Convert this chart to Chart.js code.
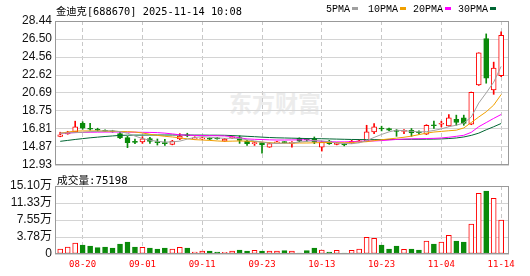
<!DOCTYPE html>
<html>
<head>
<meta charset="utf-8">
<script src="https://cdn.jsdelivr.net/npm/chart.js@4/dist/chart.umd.min.js"></script>
<style>
  html, body { margin: 0; padding: 0; background: #fff; }
  #wrap { position: relative; width: 530px; height: 276px; overflow: hidden; }
  canvas { position: absolute; left: 0; }
  #priceChart { top: 0; }
  #volChart { top: 168px; }
  .txt { position: absolute; white-space: nowrap; color: #000; line-height: 1; }
  #title { left: 56px; top: 3px; font: 10.3px "DejaVu Sans Mono", "Noto Sans CJK SC", monospace; }
  #volTitle { left: 57px; top: 172px; font: 10.7px "DejaVu Sans Mono", "Noto Sans CJK SC", monospace; }
  .leg { position: absolute; top: 4px; font: 10px "Liberation Mono", monospace; white-space: nowrap; }
  .leg i { display: inline-block; width: 6px; height: 3px; margin-left: 2px; vertical-align: 2px; }
  #mark { position: absolute; left: 229px; top: 85px; font: bold 23px "Noto Sans CJK SC", sans-serif; color: #ececec; letter-spacing: 0px; }
</style>
</head>
<body>
<div id="wrap">
  <div id="mark">东方财富</div>
  <canvas id="priceChart" width="530" height="176"></canvas>
  <canvas id="volChart" width="530" height="108"></canvas>
  <div class="txt" id="title">金迪克[688670] 2025-11-14 10:08</div>
  <div class="leg" style="left:326px">5PMA<i style="background:#a0a0a0"></i></div>
  <div class="leg" style="left:368px">10PMA<i style="background:#f0a000"></i></div>
  <div class="leg" style="left:413px">20PMA<i style="background:#ff00ff"></i></div>
  <div class="leg" style="left:458px">30PMA<i style="background:#006633"></i></div>
  <div class="txt" id="volTitle">成交量:75198</div>
</div>
<script>
// ---- data ----
const dates = ['08-15','08-18','08-19','08-20','08-21','08-22','08-25','08-26','08-27','08-28',
  '08-29','09-01','09-02','09-03','09-04','09-05','09-08','09-09','09-10','09-11',
  '09-12','09-15','09-16','09-17','09-18','09-19','09-22','09-23','09-24','09-25',
  '09-26','09-29','09-30','10-09','10-10','10-13','10-14','10-15','10-16','10-17',
  '10-20','10-21','10-22','10-23','10-24','10-27','10-28','10-29','10-30','10-31',
  '11-03','11-04','11-05','11-06','11-07','11-10','11-11','11-12','11-13','11-14'];
const shownDates = ['08-20','09-01','09-11','09-23','10-13','10-23','11-04','11-14'];

const openP  = [16.02,16.29,16.49,17.43,16.89,16.78,16.67,16.62,16.31,15.88,
  15.48,15.42,15.77,15.42,15.32,15.15,15.73,16.18,15.75,15.75,
  15.80,15.86,15.51,15.86,15.88,15.51,15.23,15.34,14.86,15.32,
  15.40,15.26,15.80,15.70,15.77,14.86,15.51,15.15,15.21,15.29,
  15.42,15.51,16.49,16.89,16.86,16.64,16.56,16.67,16.51,16.26,
  17.27,17.32,17.14,17.86,18.01,17.32,21.55,26.54,21.01,22.56];
const highP  = [16.46,16.56,17.65,17.59,17.43,16.89,16.73,16.67,16.46,16.02,
  15.73,15.97,15.91,15.73,15.70,15.59,16.31,16.35,15.97,15.91,
  15.88,15.91,15.80,16.05,16.08,15.59,15.42,15.37,15.32,15.48,
  15.45,15.45,15.86,15.80,15.95,15.48,15.59,15.37,15.26,15.59,
  15.64,17.21,17.40,17.11,16.92,16.75,16.75,16.86,16.62,17.27,
  17.65,17.65,18.37,18.30,18.30,20.79,25.02,27.05,24.01,27.27];
const lowP   = [15.97,16.24,16.46,16.78,16.67,16.56,16.51,16.46,15.77,14.80,
  15.23,15.26,15.26,15.08,15.04,15.10,15.66,15.97,15.70,15.66,
  15.64,15.70,15.48,15.80,15.26,15.04,15.04,14.21,14.83,15.26,
  15.29,14.86,15.42,15.48,15.23,14.43,15.15,15.10,14.99,15.26,
  15.37,15.48,16.31,16.60,16.62,16.02,16.31,16.02,16.24,16.21,
  16.86,17.03,17.11,17.21,17.21,17.27,21.50,21.74,20.54,22.45];
const closeP = [16.18,16.46,17.03,16.89,16.78,16.67,16.56,16.51,15.86,15.34,
  15.37,15.75,15.48,15.34,15.23,15.51,16.05,16.08,15.86,15.86,
  15.70,15.75,15.73,15.97,15.59,15.23,15.34,15.08,15.23,15.40,
  15.34,15.32,15.51,15.62,15.40,15.40,15.23,15.29,15.10,15.48,
  15.53,16.49,17.03,16.81,16.67,16.56,16.64,16.38,16.40,17.21,
  17.16,17.40,18.01,17.51,17.40,20.76,25.00,22.28,23.36,26.90];

const ma5  = [16.35,16.38,16.42,16.45,16.52,16.56,16.60,16.62,16.52,16.35,
  16.05,15.78,15.60,15.48,15.40,15.42,15.50,15.72,15.90,15.98,
  15.92,15.85,15.80,15.82,15.78,15.65,15.52,15.40,15.28,15.25,
  15.28,15.30,15.40,15.48,15.55,15.52,15.45,15.30,15.24,15.22,
  15.32,15.55,15.90,16.22,16.50,16.68,16.62,16.56,16.50,16.52,
  16.65,16.82,17.05,17.22,17.45,18.10,19.60,20.70,21.85,23.55];
const ma10 = [16.35,16.48,16.58,16.60,16.60,16.60,16.58,16.56,16.54,16.52,
  16.48,16.38,16.24,16.12,16.02,15.95,15.85,15.75,15.66,15.62,
  15.58,15.52,15.48,15.50,15.52,15.50,15.46,15.40,15.34,15.28,
  15.27,15.28,15.30,15.30,15.32,15.34,15.36,15.34,15.32,15.36,
  15.40,15.44,15.55,15.65,15.74,15.82,15.92,16.04,16.20,16.36,
  16.48,16.55,16.62,16.68,16.92,17.50,18.10,18.66,19.38,20.52];
const ma20 = [16.35,16.38,16.42,16.44,16.46,16.47,16.48,16.48,16.48,16.47,
  16.46,16.45,16.44,16.42,16.36,16.28,16.18,16.14,16.12,16.10,
  16.09,16.08,16.06,15.98,15.86,15.74,15.70,15.67,15.64,15.62,
  15.62,15.63,15.64,15.64,15.55,15.48,15.44,15.42,15.42,15.44,
  15.48,15.51,15.52,15.56,15.62,15.68,15.72,15.75,15.76,15.78,
  15.80,15.84,15.92,16.02,16.13,16.45,17.05,17.50,17.95,18.37];
const ma30 = [15.48,15.58,15.68,15.77,15.86,15.93,16.00,16.06,16.12,16.14,
  16.15,16.15,16.16,16.16,16.16,16.16,16.16,16.16,16.15,16.15,
  16.14,16.14,16.13,16.10,16.06,16.02,15.98,15.93,15.89,15.86,
  15.84,15.82,15.80,15.78,15.77,15.76,15.74,15.72,15.70,15.68,
  15.67,15.66,15.66,15.66,15.67,15.68,15.69,15.70,15.70,15.71,
  15.72,15.74,15.78,15.84,15.95,16.12,16.36,16.72,17.05,17.40];

const volume = [11100,15500,24400,20000,17800,14000,15500,13300,22200,26600,
  15500,14800,13300,11100,13300,11100,14800,13300,4400,6700,
  6700,4400,3700,6700,8900,6700,8100,6700,6700,6700,
  7400,6700,2200,7400,13300,8900,4400,8100,2200,8100,
  11100,37000,34800,20000,11100,17800,10400,11100,8900,28900,
  22200,26600,41500,28900,26600,66600,134700,139900,123600,75198];

const priceTicks = [12.93,14.87,16.81,18.75,20.69,22.62,24.56,26.50,28.44];
const volTicks = [0,37750,75500,113250,151000];
const volTickLabels = ['0','3.78万','7.55万','11.33万','15.10万'];

// ---- styling ----
const RED = '#ff0000';
const GREEN = '#0a8a0a';
const GRID = '#d4d4d4';
const VGRID = '#c8c8c8';
const up = closeP.map((c, i) => c >= openP[i]);
const dateIdx = shownDates.map(d => dates.indexOf(d));
const X_MIN = -0.7, X_MAX = 60.05;

const framePlugin = {
    id: 'frame',
    afterDraw(chart) {
        const { ctx, chartArea: a } = chart;
        ctx.save();
        ctx.strokeStyle = '#999';
        ctx.lineWidth = 1;
        ctx.strokeRect(Math.round(a.left) + 0.5, Math.round(a.top) + 0.5,
            Math.round(a.right - a.left) - 1, Math.round(a.bottom - a.top) - 1);
        ctx.restore();
    }
};

const tickFont = { family: "'Liberation Sans', 'Noto Sans CJK SC', Arial, sans-serif", size: 12 };

function xScale(showLabels) {
    return {
        type: 'linear',
        min: X_MIN,
        max: X_MAX,
        offset: false,
        afterBuildTicks: s => { s.ticks = dateIdx.map(v => ({ value: v })); },
        afterFit: s => { s.height = showLabels ? 22 : 0; },
        grid: { offset: false, color: VGRID, drawTicks: false, lineWidth: 1 },
        border: { display: false, dash: [4, 3] },
        ticks: {
            display: showLabels,
            autoSkip: false,
            maxRotation: 0,
            padding: 5,
            color: RED,
            font: { family: "'DejaVu Sans Mono', monospace", size: 9 },
            callback: v => dates[v]
        }
    };
}

function lineSet(data, color) {
    return {
        type: 'line',
        data: data.map((v, i) => ({ x: i, y: v })),
        borderColor: color,
        borderWidth: 1,
        pointRadius: 0,
        tension: 0,
        fill: false
    };
}

// ---- price chart ----
new Chart(document.getElementById('priceChart'), {
    type: 'bar',
    data: {
        datasets: [
            lineSet(ma5, '#a0a0a0'),
            lineSet(ma10, '#f0a000'),
            lineSet(ma20, '#ff00ff'),
            lineSet(ma30, '#006633'),
            {
                // candle bodies
                data: openP.map((o, i) => ({ x: i, y: [o, closeP[i]] })),
                backgroundColor: up.map(u => u ? '#ffffff' : GREEN),
                borderColor: up.map(u => u ? RED : GREEN),
                borderWidth: 1,
                borderSkipped: false,
                barThickness: 5,
                minBarLength: 1,
                grouped: false
            },
            {
                // wicks
                data: lowP.map((l, i) => ({ x: i, y: [l, highP[i]] })),
                backgroundColor: up.map(u => u ? RED : GREEN),
                borderWidth: 0,
                barThickness: 1,
                grouped: false
            }
        ]
    },
    options: {
        responsive: false,
        animation: false,
        layout: { padding: { top: 21, right: 21, bottom: 11, left: 0 } },
        plugins: { legend: { display: false }, tooltip: { enabled: false } },
        scales: {
            x: xScale(false),
            y: {
                min: 12.93,
                max: 28.44,
                afterBuildTicks: s => { s.ticks = priceTicks.map(v => ({ value: v })); },
                afterFit: s => { s.width = 55; },
                grid: { color: GRID, drawTicks: false },
                border: { display: false },
                ticks: {
                    autoSkip: false,
                    padding: 3,
                    color: '#111',
                    font: tickFont,
                    callback: v => v.toFixed(2)
                }
            }
        }
    },
    plugins: [framePlugin]
});

// ---- volume chart ----
new Chart(document.getElementById('volChart'), {
    type: 'bar',
    data: {
        datasets: [{
            data: volume.map((v, i) => ({ x: i, y: v })),
            backgroundColor: up.map(u => u ? '#ffffff' : GREEN),
            borderColor: up.map(u => u ? RED : GREEN),
            borderWidth: 1,
            borderSkipped: false,
            barThickness: 5,
            grouped: false
        }]
    },
    options: {
        responsive: false,
        animation: false,
        layout: { padding: { top: 18, right: 21, bottom: 0, left: 0 } },
        plugins: { legend: { display: false }, tooltip: { enabled: false } },
        scales: {
            x: xScale(true),
            y: {
                min: 0,
                max: 151000,
                afterBuildTicks: s => { s.ticks = volTicks.map(v => ({ value: v })); },
                afterFit: s => { s.width = 55; },
                grid: { color: GRID, drawTicks: false },
                border: { display: false },
                ticks: {
                    autoSkip: false,
                    padding: 3,
                    color: '#111',
                    font: tickFont,
                    callback: (v, i) => volTickLabels[i]
                }
            }
        }
    },
    plugins: [framePlugin]
});
</script>
</body>
</html>
